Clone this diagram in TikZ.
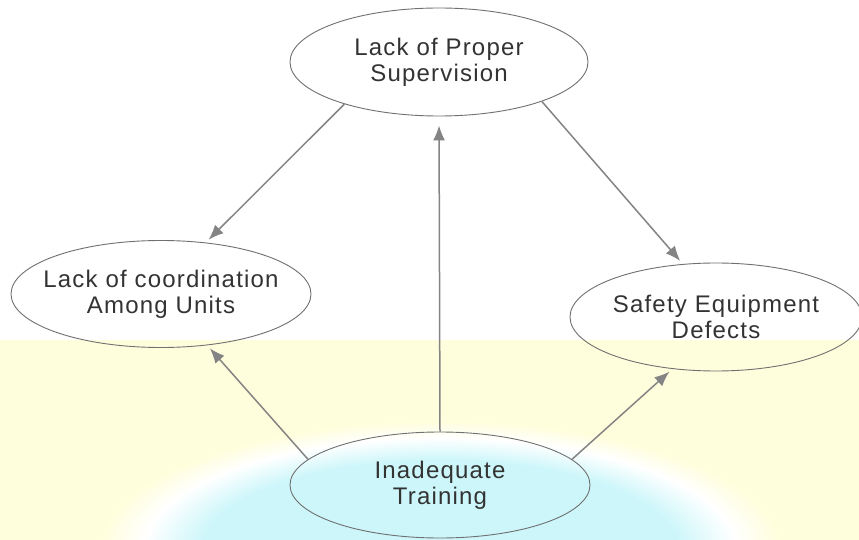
\documentclass[tikz,border=0pt]{standalone}
\usepackage{fontspec}
\setmainfont{Liberation Sans}[LetterSpace=5]
\usepackage{tikz}
\usetikzlibrary{arrows.meta,shapes.geometric,positioning}
\definecolor{bgyellow}{HTML}{FFFEDC}
\definecolor{glowcyan}{HTML}{CCF6FA}
\definecolor{edgegray}{HTML}{707070}
\definecolor{arrowgray}{HTML}{848484}
\definecolor{textgray}{HTML}{333333}
\pgfdeclareradialshading{glow}{\pgfpoint{0bp}{0bp}}{%
	color(0bp)=(glowcyan); color(16bp)=(glowcyan); color(18bp)=(glowcyan!50!white);
	color(20bp)=(white); color(23bp)=(bgyellow); color(50bp)=(bgyellow)}
\tikzset{%
	cause/.style  = {draw=edgegray, line width=0.9pt, ellipse, inner xsep=-40pt, inner ysep=0pt,
		align=center, text=textgray, font=\fontsize{24}{26}\selectfont}, % Oval
	arrow/.style  = {draw=arrowgray, line width=1.5pt, -{Latex[length=15pt,width=12pt]},
		shorten >=4pt}, % Link
}

\begin{document}
\begin{tikzpicture}[x=1pt,y=-1pt]
	\useasboundingbox (0,0) rectangle (859,540);
	\fill[white] (0,0) rectangle (859,340);
	\fill[bgyellow] (0,340) rectangle (859,540);
	\begin{scope}
		\clip (0,340) rectangle (859,540);
		\shade[shading=glow] (440,550) ellipse [x radius=370, y radius=140];
	\end{scope}
	
	\node[cause, minimum width=298pt, minimum height=108pt] (sup) at (439,62) {Lack of Proper\\Supervision};
	\node[cause, minimum width=300pt, minimum height=107pt] (coord) at (161,294) {Lack of coordination\\Among Units};
	\node[cause, minimum width=292pt, minimum height=108pt] (equip) at (716,317) {Safety Equipment\\Defects};
	\node[cause, minimum width=300pt, minimum height=106pt] (train) at (440,485) {Inadequate\\Training};
	
	\draw[arrow] (sup.204) -- (coord.49);
	\draw[arrow] (sup.339) -- (equip.122);
	\draw[arrow, shorten >=9pt] (train.north) -- (sup.south);
	\draw[arrow] (train.169) -- (coord.312);
	\draw[arrow] (train.11) -- (equip.230);
\end{tikzpicture}
\end{document}
